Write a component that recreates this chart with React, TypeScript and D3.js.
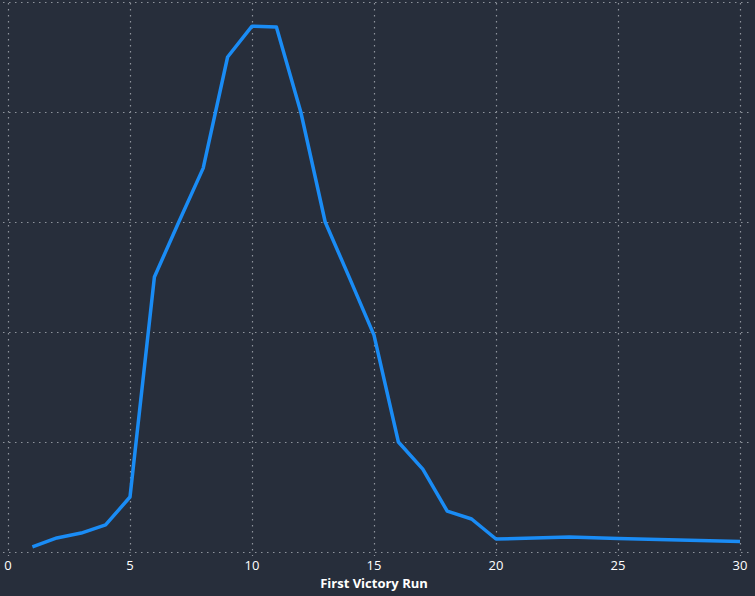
import { useEffect, useRef } from 'react';
import * as d3 from 'd3';

const runs = [1, 2, 3, 4, 5, 6, 7, 8, 9, 10, 11, 12, 13, 14, 15, 16, 17, 18, 19, 20, 23, 25, 30];
const counts = [2.3, 6.4, 8.6, 12.3, 25, 125, 150, 174.5, 225, 239, 238.6, 200, 150, 124.5, 98.6, 50, 37.7, 18.6, 15, 5.9, 6.8, 6.1, 4.8];
const xTicks = [0, 5, 10, 15, 20, 25, 30];
const yTicks = [0, 50, 100, 150, 200, 250];

const App = () => {
  const svgRef = useRef<SVGSVGElement>(null!);
  const width = 755;
  const height = 596;

  useEffect(() => {
    const svg = d3.select(svgRef.current);
    svg.selectAll('*').remove();

    const x = d3.scaleLinear().domain([0, 30]).range([8, 740]);
    const y = d3.scaleLinear().domain([0, 250]).range([552, 2]);

    svg.append('rect').attr('width', width).attr('height', height).attr('fill', '#272e3b');

    const grid = svg.append('g').attr('stroke', '#8e939c').attr('stroke-width', 1.2).attr('stroke-dasharray', '1.5,4.5');
    grid
      .selectAll('line.h')
      .data(yTicks)
      .enter()
      .append('line')
      .attr('x1', 3)
      .attr('x2', 752)
      .attr('y1', d => y(d) + 0.5)
      .attr('y2', d => y(d) + 0.5);
    grid
      .selectAll('line.v')
      .data(xTicks)
      .enter()
      .append('line')
      .attr('y1', 3)
      .attr('y2', 556)
      .attr('x1', d => x(d) + 0.5)
      .attr('x2', d => x(d) + 0.5);

    svg
      .append('g')
      .selectAll('text')
      .data(xTicks)
      .enter()
      .append('text')
      .attr('x', d => x(d))
      .attr('y', 569.5)
      .attr('text-anchor', 'middle')
      .attr('fill', '#ffffff')
      .attr('font-family', 'Open Sans, sans-serif')
      .attr('font-size', 13)
      .text(d => d);

    svg
      .append('text')
      .attr('x', 374)
      .attr('y', 588)
      .attr('text-anchor', 'middle')
      .attr('fill', '#ffffff')
      .attr('font-family', 'Open Sans, sans-serif')
      .attr('font-weight', 'bold')
      .attr('font-size', 13)
      .text('First Victory Run');

    const line = d3
      .line<number>()
      .x((_, i) => x(runs[i]))
      .y(d => y(d));

    svg
      .append('path')
      .datum(counts)
      .attr('d', line)
      .attr('fill', 'none')
      .attr('stroke', '#1a8cf5')
      .attr('stroke-width', 3.5)
      .attr('stroke-linejoin', 'round');
  }, []);

  return (
    <svg
      ref={svgRef}
      width={width}
      height={height}
      style={{ position: 'absolute', left: 0, top: 0, display: 'block' }}
    ></svg>
  );
};

export default App;
